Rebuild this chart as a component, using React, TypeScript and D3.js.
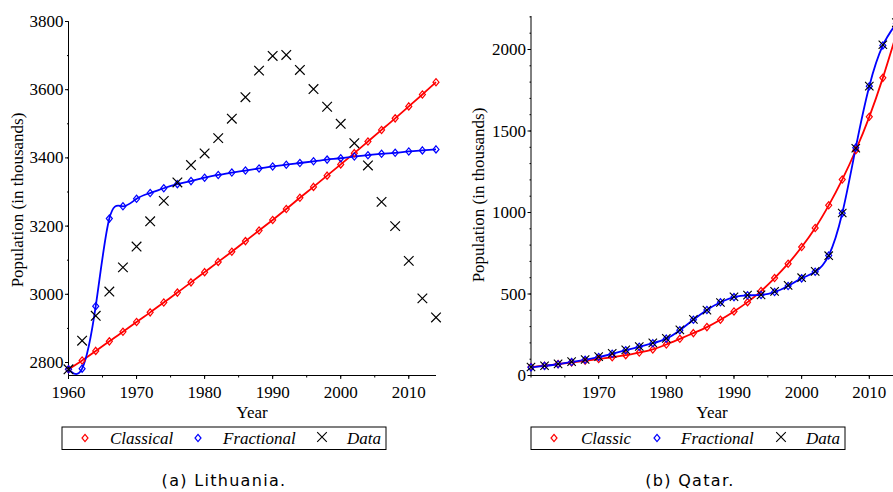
import React from "react";
import * as d3 from "d3";

// ---------- Data ----------
const yearsL = [1960,1962,1964,1966,1968,1970,1972,1974,1976,1978,1980,1982,1984,1986,1988,1990,1992,1994,1996,1998,2000,2002,2004,2006,2008,2010,2012,2014];

const lithData = [2780,2864,2937,3008,3079,3140,3214,3274,3328,3379,3413,3458,3515,3578,3656,3699,3702,3658,3602,3550,3500,3443,3378,3271,3200,3098,2988,2932];
const lithClassical = [2780,2806,2834,2862,2890,2919,2947,2976,3005,3035,3065,3095,3125,3156,3187,3218,3250,3283,3315,3348,3381,3414,3448,3482,3516,3551,3586,3622];
const lithFractional = [2780,2782,2965,3222,3258,3280,3297,3311,3323,3332,3342,3350,3357,3363,3369,3375,3380,3385,3390,3395,3399,3404,3408,3412,3415,3419,3422,3425];

const yearsR = [1960,1962,1964,1966,1968,1970,1972,1974,1976,1978,1980,1982,1984,1986,1988,1990,1992,1994,1996,1998,2000,2002,2004,2006,2008,2010,2012,2014];
const qatarData = [52,60,71,85,98,116,136,157,178,200,228,280,344,401,448,483,493,495,516,553,600,639,735,997,1394,1775,2029,2165];
const qatarClassic = [52,60,70,80,90,101,112,125,141,160,190,225,260,297,342,393,450,518,598,686,788,905,1044,1202,1382,1587,1826,2095];
const qatarFractional = [50,59,69,83,96,113,133,155,176,198,226,278,342,402,449,481,492,494,512,549,596,636,736,995,1398,1775,2025,2160];

const leftYTicks = [2800,3000,3200,3400,3600,3800];
const leftYMinor = [2800,2900,3000,3100,3200,3300,3400,3500,3600,3700,3800];
const leftXTicks = [1960,1970,1980,1990,2000,2010];
const leftXMinor = [1960,1965,1970,1975,1980,1985,1990,1995,2000,2005,2010];
const rightYTicks = [0,500,1000,1500,2000];
const rightYMinor = [0,100,200,300,400,500,600,700,800,900,1000,1100,1200,1300,1400,1500,1600,1700,1800,1900,2000,2100,2200];
const rightXTicks = [1970,1980,1990,2000,2010];
const rightXMinor = [1960,1965,1970,1975,1980,1985,1990,1995,2000,2005,2010];

const legendL = ["Classical","Fractional","Data"];
const legendR = ["Classic","Fractional","Data"];

const RED = "#ff0000";
const BLUE = "#0000ff";
const SERIF = "'Liberation Serif', 'Times New Roman', serif";
const SANS = "'DejaVu Sans', sans-serif";

const Diamond = ({ x, y, color, s = 1 }: any) => (
  <path d={`M${x},${y - 3.6 * s}L${x + 3 * s},${y}L${x},${y + 3.6 * s}L${x - 3 * s},${y}Z`} fill="none" stroke={color} strokeWidth={1.2} />
);
const Cross = ({ x, y, r = 4.6, w = 1.2 }: any) => (
  <path d={`M${x - r},${y - r}L${x + r},${y + r}M${x - r},${y + r}L${x + r},${y - r}`} stroke="#000" strokeWidth={w} fill="none" />
);

function Panel({ xs, ys, years, cls, frac, data, yTicks, yMinor, xTicks, xMinor, yTop, crossR, crossW }: any) {
  const [x0] = xs.range();
  const xEnd = xs(2014);
  const yBase = 375.5;
  const line = (vals: number[]) =>
    d3.line<number>().x((_, i) => xs(years[i])).y((v) => ys(v)).curve(d3.curveNatural)(vals) || "";
  return (
    <g>
      {/* axes */}
      <line x1={x0} x2={x0} y1={yTop} y2={yBase} stroke="#000" strokeWidth={1} />
      <line x1={x0} x2={xEnd} y1={yBase} y2={yBase} stroke="#000" strokeWidth={1} />
      {yMinor.map((t: number) => (
        <line key={"ym" + t} x1={x0 - 1.5} x2={x0} y1={ys(t)} y2={ys(t)} stroke="#000" strokeWidth={1} />
      ))}
      {yTicks.map((t: number) => (
        <g key={"yt" + t}>
          <line x1={x0 - 3.5} x2={x0} y1={ys(t)} y2={ys(t)} stroke="#000" strokeWidth={1} />
          <text x={x0 - 5} y={ys(t) + 5.5} textAnchor="end" fontFamily={SERIF} fontSize={17}>{t}</text>
        </g>
      ))}
      {xMinor.map((t: number) => (
        <line key={"xm" + t} x1={xs(t)} x2={xs(t)} y1={yBase} y2={yBase + 2} stroke="#000" strokeWidth={1} />
      ))}
      {xTicks.map((t: number) => (
        <g key={"xt" + t}>
          <line x1={xs(t)} x2={xs(t)} y1={yBase} y2={yBase + 3.5} stroke="#000" strokeWidth={1} />
          <text x={xs(t)} y={398} textAnchor="middle" fontFamily={SERIF} fontSize={17}>{t}</text>
        </g>
      ))}
      {/* lines */}
      <path d={line(cls)} fill="none" stroke={RED} strokeWidth={1.8} />
      <path d={line(frac)} fill="none" stroke={BLUE} strokeWidth={1.8} />
      {cls.map((v: number, i: number) => <Diamond key={"c" + i} x={xs(years[i])} y={ys(v)} color={RED} />)}
      {frac.map((v: number, i: number) => <Diamond key={"f" + i} x={xs(years[i])} y={ys(v)} color={BLUE} />)}
      {data.map((v: number, i: number) => <Cross key={"d" + i} x={xs(years[i])} y={ys(v)} r={crossR} w={crossW} />)}
    </g>
  );
}

function Legend({ x, w, labels, pos }: any) {
  const y = 438;
  return (
    <g>
      <rect x={x} y={427} width={w} height={22.5} fill="#fff" stroke="#000" strokeWidth={1} />
      <Diamond x={pos[0]} y={y} color={RED} />
      <text x={pos[1]} y={y + 5.5} fontFamily={SERIF} fontStyle="italic" fontSize={17}>{labels[0]}</text>
      <Diamond x={pos[2]} y={y} color={BLUE} />
      <text x={pos[3]} y={y + 5.5} fontFamily={SERIF} fontStyle="italic" fontSize={17}>{labels[1]}</text>
      <Cross x={pos[4]} y={y - 1} r={4.8} w={1.1} />
      <text x={pos[5]} y={y + 5.5} fontFamily={SERIF} fontStyle="italic" fontSize={17}>{labels[2]}</text>
    </g>
  );
}

export default function App() {
  const xL = d3.scaleLinear().domain([1960, 2014]).range([68.5, 436]);
  const yL = d3.scaleLinear().domain([2800, 3800]).range([362.5, 21.5]);
  const xR = d3.scaleLinear().domain([1960, 2010]).range([531, 869.3]);
  const yR = d3.scaleLinear().domain([0, 2000]).range([375.5, 49.5]);

  return (
    <svg width={893} height={492} style={{ position: "absolute", left: 0, top: 0, background: "#fff" }}>
      <rect x={0} y={0} width={893} height={492} fill="#fff" />
      <Panel xs={xL} ys={yL} years={yearsL} cls={lithClassical} frac={lithFractional} data={lithData}
        yTicks={leftYTicks} yMinor={leftYMinor} xTicks={leftXTicks} xMinor={leftXMinor} yTop={21.5} crossR={4.8} crossW={1.2} />
      <Panel xs={xR} ys={yR} years={yearsR} cls={qatarClassic} frac={qatarFractional} data={qatarData}
        yTicks={rightYTicks} yMinor={rightYMinor} xTicks={rightXTicks} xMinor={rightXMinor} yTop={16} crossR={4.2} crossW={1.1} />

      <text transform="translate(23,200) rotate(-90)" textAnchor="middle" fontFamily={SERIF} fontSize={17}>Population (in thousands)</text>
      <text transform="translate(484,195) rotate(-90)" textAnchor="middle" fontFamily={SERIF} fontSize={17}>Population (in thousands)</text>
      <text x={252} y={418} textAnchor="middle" fontFamily={SERIF} fontSize={17}>Year</text>
      <text x={712} y={418} textAnchor="middle" fontFamily={SERIF} fontSize={17}>Year</text>

      <Legend x={62} w={324} labels={legendL} pos={[85, 110, 198, 223, 322, 347]} />
      <Legend x={531} w={314} labels={legendR} pos={[554, 581, 657, 681, 781, 806]} />

      <text x={224} y={486} textAnchor="middle" fontFamily={SANS} fontSize={16} letterSpacing={1.3}>(a) Lithuania.</text>
      <text x={690} y={486} textAnchor="middle" fontFamily={SANS} fontSize={16} letterSpacing={1.3}>(b) Qatar.</text>
    </svg>
  );
}
